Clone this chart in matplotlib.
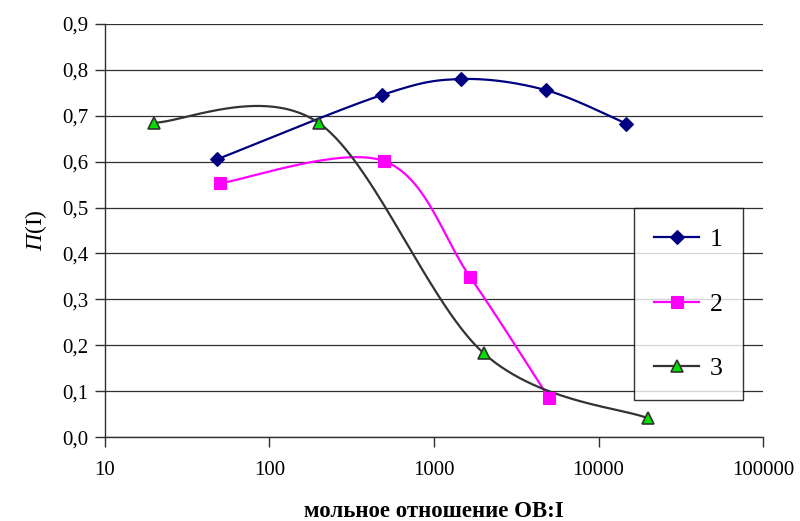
import numpy as np
import matplotlib
matplotlib.use("Agg")
import matplotlib.pyplot as plt
from matplotlib.ticker import FixedLocator, FuncFormatter, NullLocator

plt.rcParams['font.family'] = ['Liberation Serif', 'DejaVu Serif']
plt.rcParams['mathtext.fontset'] = 'custom'
plt.rcParams['mathtext.rm'] = 'Liberation Serif'
plt.rcParams['mathtext.it'] = 'Liberation Serif:italic'

# data
x1 = [48, 480, 1460, 4770, 14700]
y1 = [0.605, 0.745, 0.780, 0.756, 0.683]
x2 = [50, 500, 1655, 5000]
y2 = [0.553, 0.601, 0.349, 0.085]
x3 = [20, 200, 2000, 20000]
y3 = [0.685, 0.684, 0.183, 0.041]
labels = ['1', '2', '3']
xticks = [10, 100, 1000, 10000, 100000]
yticks = [0.0, 0.1, 0.2, 0.3, 0.4, 0.5, 0.6, 0.7, 0.8, 0.9]


def smooth(xs, ys, n=60):
    """Excel-like smoothed line (Catmull-Rom Bezier) in log-x space."""
    px = np.log10(np.asarray(xs, float))
    py = np.asarray(ys, float)
    P = np.column_stack([px, py])
    m = len(P)
    out = []
    for i in range(m - 1):
        p0 = P[i - 1] if i > 0 else P[i]
        p1 = P[i]
        p2 = P[i + 1]
        p3 = P[i + 2] if i + 2 < m else P[i + 1]
        c1 = p1 + (p2 - p0) / 6.0
        c2 = p2 - (p3 - p1) / 6.0
        t = np.linspace(0, 1, n)[:, None]
        b = ((1 - t) ** 3) * p1 + 3 * ((1 - t) ** 2) * t * c1 + 3 * (1 - t) * t ** 2 * c2 + t ** 3 * p2
        out.append(b if i == 0 else b[1:])
    B = np.vstack(out)
    return 10 ** B[:, 0], B[:, 1]


fig = plt.figure(figsize=(8.0, 5.21), dpi=100)
ax = fig.add_axes([0.131, 0.161, 0.823, 0.793])

series = [
    (x1, y1, '#000080', 'D', '#000080', '#000080', 7.5),
    (x2, y2, '#FF00FF', 's', '#FF00FF', '#FF00FF', 8),
    (x3, y3, '#333333', '^', '#00E000', '#333333', 8),
]
handles = []
for (xs, ys, lc, mk, mfc, mec, ms), lab in zip(series, labels):
    sx, sy = smooth(xs, ys)
    ax.plot(sx, sy, color=lc, lw=1.6, zorder=3, solid_capstyle='round')
    ax.plot(xs, ys, linestyle='none', marker=mk, ms=ms, mfc=mfc, mec=mec,
            mew=1.2 if mk == '^' else 0.8, zorder=4)
    h, = ax.plot([], [], color=lc, lw=1.6, marker=mk, ms=ms, mfc=mfc, mec=mec,
                 mew=1.2 if mk == '^' else 0.8)
    handles.append(h)

ax.set_xscale('log')
ax.set_xlim(10, 100000)
ax.set_ylim(0, 0.9)
ax.xaxis.set_major_locator(FixedLocator(xticks))
ax.xaxis.set_minor_locator(NullLocator())
ax.xaxis.set_major_formatter(FuncFormatter(lambda v, p: f'{int(round(v))}'))
ax.yaxis.set_major_locator(FixedLocator(yticks))
ax.yaxis.set_major_formatter(FuncFormatter(lambda v, p: f'{v:.1f}'.replace('.', ',')))

ax.grid(axis='y', color='#303030', lw=0.9)
ax.set_axisbelow(True)
for s in ['top', 'right']:
    ax.spines[s].set_visible(False)
for s in ['left', 'bottom']:
    ax.spines[s].set_color('#303030')
    ax.spines[s].set_linewidth(1.0)
ax.tick_params(axis='both', direction='out', length=7, width=1.0, color='#303030',
               labelsize=15)
ax.tick_params(axis='x', pad=10)
ax.tick_params(axis='y', pad=5)

ax.set_xlabel('мольное отношение OB:I', fontsize=16.5, fontweight='bold', labelpad=15)
ax.set_ylabel(r'$\mathit{П}$(I)', fontsize=17, labelpad=9)

leg = ax.legend(handles, labels, loc='center',
                bbox_to_anchor=(0.802, 0.087, 0.169, 0.470),
                fontsize=18.5, frameon=True, fancybox=False, edgecolor='black',
                labelspacing=1.6, handlelength=1.75, handletextpad=0.4,
                borderaxespad=0, borderpad=0.8)
leg.get_frame().set_linewidth(1.0)
leg.set_zorder(5)

fig.savefig('out.png', dpi=100)
